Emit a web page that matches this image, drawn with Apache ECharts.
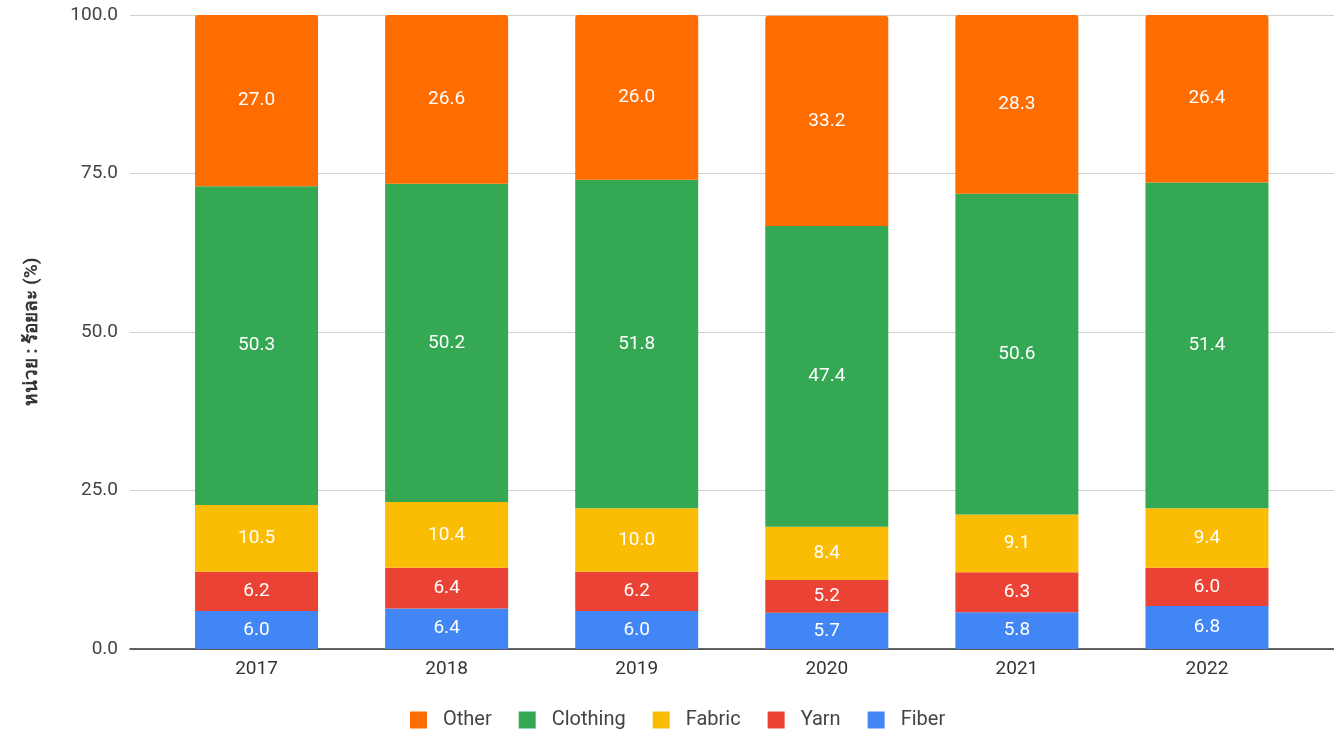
<!DOCTYPE html>
<html>
<head>
<meta charset="utf-8">
<script src="https://cdn.jsdelivr.net/npm/echarts@6/dist/echarts.min.js"></script>
<style>html,body{margin:0;padding:0;background:#fff}#c{width:1334px;height:736px}</style>
</head>
<body>
<div id="c"></div>
<script>
const years = ['2017','2018','2019','2020','2021','2022'];
const fiber = [6.0, 6.4, 6.0, 5.7, 5.8, 6.8];
const yarn = [6.2, 6.4, 6.2, 5.2, 6.3, 6.0];
const fabric = [10.5, 10.4, 10.0, 8.4, 9.1, 9.4];
const clothing = [50.3, 50.2, 51.8, 47.4, 50.6, 51.4];
const other = [27.0, 26.6, 26.0, 33.2, 28.3, 26.4];
const yTicks = [0, 25, 50, 75, 100];
const yTitle = 'หน่วย : ร้อยละ (%)';

const font = 'Roboto, Arial, sans-serif';
const chart = echarts.init(document.getElementById('c'));
function mk(name, data, color, radius) {
  return {
    name, type: 'bar', stack: 'all', data,
    xAxisIndex: 0, yAxisIndex: 0,
    barWidth: 123,
    itemStyle: { color, borderRadius: radius ? [3,3,0,0] : 0 },
    label: { show: true, position: 'inside', color: '#fff', fontSize: 19, fontFamily: font,
      formatter: p => p.value.toFixed(1) },
    emphasis: { disabled: true }
  };
}
chart.setOption({
  animation: false,
  textStyle: { fontFamily: font },
  grid: [
    { left: 161.5, right: 32, top: 15, bottom: 87 },
    { left: 130, right: 0, top: 15, bottom: 87 }
  ],
  xAxis: [
    { type: 'category', gridIndex: 0, data: years,
      axisLine: { show: false }, axisTick: { show: false },
      axisLabel: { color: '#333', fontSize: 19, margin: 11, fontFamily: font } },
    { type: 'value', gridIndex: 1, min: 0, max: 1,
      axisLine: { show: true, onZero: false, lineStyle: { color: '#333', width: 1.5 } },
      axisTick: { show: false }, axisLabel: { show: false }, splitLine: { show: false } }
  ],
  yAxis: [
    { type: 'value', gridIndex: 0, min: 0, max: 100, interval: 25, show: false, splitLine: { show: false } },
    { type: 'value', gridIndex: 1, min: yTicks[0], max: yTicks[yTicks.length-1], interval: 25,
      axisLine: { show: false }, axisTick: { show: false },
      axisLabel: { color: '#444', fontSize: 19, margin: 12, fontFamily: font, formatter: v => v.toFixed(1) },
      splitLine: { lineStyle: { color: '#d0d0d0', width: 1 } },
      name: yTitle, nameLocation: 'middle', nameRotate: 90, nameGap: 88,
      nameTextStyle: { color: '#333', fontSize: 19, fontWeight: 'bold' } }
  ],
  legend: {
    data: ['Other', 'Clothing', 'Fabric', 'Yarn', 'Fiber'],
    left: 405, top: 705, icon: 'rect', itemWidth: 17, itemHeight: 17, itemGap: 27,
    textStyle: { color: '#444', fontSize: 20, fontFamily: font, padding: [0, 0, 0, 11] },
    selectedMode: false
  },
  series: [
    mk('Fiber', fiber, '#4285F4'),
    mk('Yarn', yarn, '#EA4335'),
    mk('Fabric', fabric, '#FBBC04'),
    mk('Clothing', clothing, '#34A853'),
    mk('Other', other, '#FF6D01', true)
  ]
});
</script>
</body>
</html>
